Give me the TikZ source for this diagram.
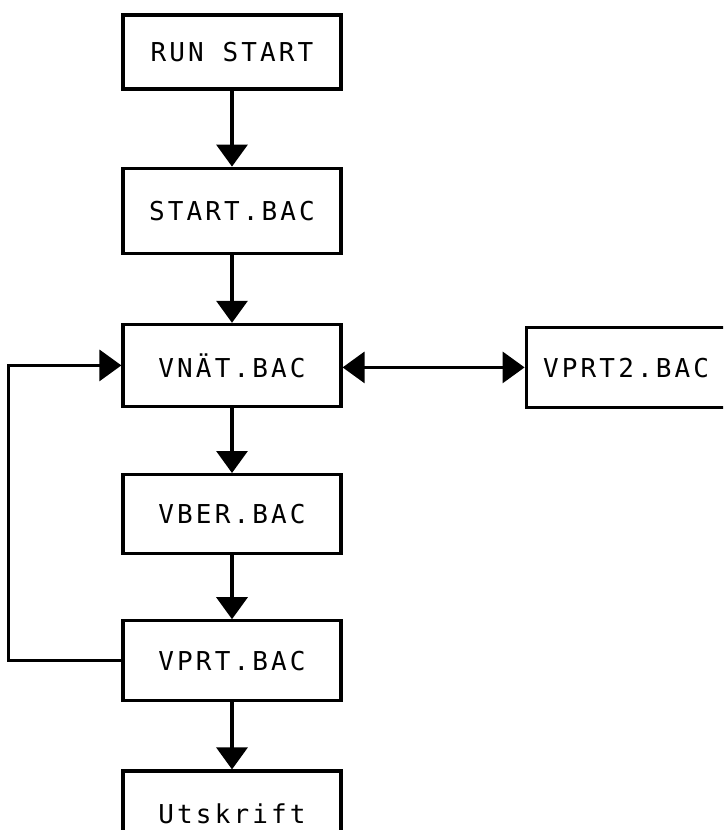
\documentclass[tikz,border=0pt]{standalone}
\usepackage{fontspec}
\setmonofont[LetterSpace=12]{DejaVu Sans Mono}
\usepackage{tikz}
\usetikzlibrary{positioning}
\usetikzlibrary{arrows.meta}
\newlength{\boxwidth}
\newlength{\sidedist}
\tikzstyle{prog}=[draw, rectangle, line width=3.2pt, minimum width=\boxwidth, inner sep=0pt, font=\fontsize{26}{30}\selectfont\ttfamily]
\tikzstyle{flow}=[line width=3.2pt, -{Triangle[width=31pt,length=22pt]}]

\begin{document}
\begin{tikzpicture}[text depth = 0ex]

				\setlength{\boxwidth}{218pt}
				\setlength{\sidedist}{182pt}

				\useasboundingbox (0,0) rectangle (723pt,-830pt);
				\clip (0,0) rectangle (723pt,-830pt);

				\node (run) [prog, minimum height=74pt] at (232pt,-52pt) {RUN START};
				\node (start) [prog, minimum height=85pt, below=76pt of run] {START.BAC};
				\node (vnat) [prog, minimum height=82pt, below=68pt of start] {VNÄT.BAC};
				\node (vber) [prog, minimum height=79pt, below=65pt of vnat] {VBER.BAC};
				\node (vprt) [prog, minimum height=80pt, below=64pt of vber] {VPRT.BAC};
				\node (uts) [prog, minimum height=86pt, below=67pt of vprt] {Utskrift};
				\node (vprt2) [prog, minimum width=0pt, minimum height=80pt, text width=240pt, inner xsep=17pt, align=left, right=\sidedist of vnat, yshift=-2pt] {VPRT2.BAC};

				\draw [flow] (run) to (start);
				\draw [flow] (start) to (vnat);
				\draw [flow] (vnat) to (vber);
				\draw [flow] (vber) to (vprt);
				\draw [flow] (vprt) to (uts);
				\draw [flow, {Triangle[width=31pt,length=22pt]}-{Triangle[width=31pt,length=22pt]}] (vnat.east |- vprt2.west) to (vprt2.west);
				\draw [flow] (vprt.west) -- ++(-113pt,0) |- (vnat.west);
				\end{tikzpicture}
\end{document}
